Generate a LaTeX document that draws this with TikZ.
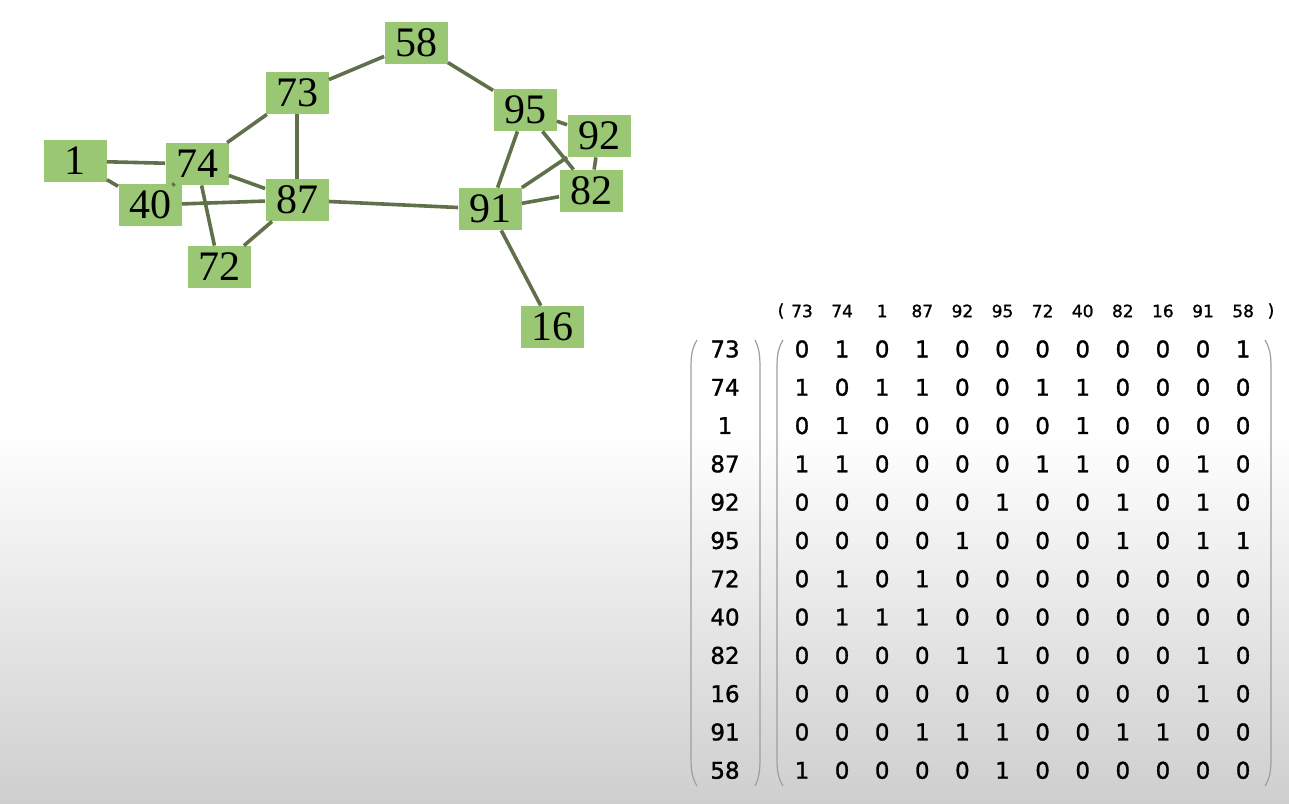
\documentclass[tikz,border=0pt]{standalone}
\usepackage{fontspec}
\setmainfont{Liberation Serif}
\newfontfamily\matfont[FakeBold=1.2]{DejaVu Sans}
\definecolor{vertexgreen}{RGB}{153,199,116}
\definecolor{edgegreen}{RGB}{96,112,74}

\begin{document}
\begin{tikzpicture}[x=0.5pt,y=-0.5pt,
  vertex/.style = {shape=rectangle, fill=vertexgreen, inner sep=0pt,
    minimum width=31.5pt, minimum height=21pt,
    font=\fontsize{21}{21}\selectfont},
  link/.style = {draw=edgegreen, line width=1.8pt},
  entry/.style = {inner sep=0pt, font=\matfont\fontsize{11.5}{11.5}\selectfont},
  head/.style = {inner sep=0pt, font=\matfont\fontsize{8.5}{8.5}\selectfont},
  paren/.style = {draw=gray!75, line width=0.6pt}]

  \useasboundingbox (0,0) rectangle (1289,803);
  \fill[white] (0,0) rectangle (1289,803);
  \shade[top color=white, bottom color=gray!38] (0,430) rectangle (1289,803);

  \node[vertex] (n58) at (416,43)  {58};
  \node[vertex] (n73) at (297,93)  {73};
  \node[vertex] (n1)  at (75,161)  {1};
  \node[vertex] (n74) at (197,164) {74};
  \node[vertex] (n40) at (150,205) {40};
  \node[vertex] (n87) at (297,200) {87};
  \node[vertex] (n72) at (219,267) {72};
  \node[vertex] (n95) at (525,110) {95};
  \node[vertex] (n92) at (599,136) {92};
  \node[vertex] (n82) at (591,191) {82};
  \node[vertex] (n91) at (490,209) {91};
  \node[vertex] (n16) at (552,327) {16};

  \draw[link] (n73) -- (n74);
  \draw[link] (n73) -- (n87);
  \draw[link] (n73) -- (n58);
  \draw[link] (n74) -- (n1);
  \draw[link] (n74) -- (n87);
  \draw[link] (n74) -- (n72);
  \draw[link] (n74) -- (n40);
  \draw[link] (n1) -- (n40);
  \draw[link] (n87) -- (n72);
  \draw[link] (n87) -- (n40);
  \draw[link] (n87) -- (n91);
  \draw[link] (n92) -- (n95);
  \draw[link] (n92) -- (n82);
  \draw[link] (n92) -- (n91);
  \draw[link] (n95) -- (n82);
  \draw[link] (n95) -- (n91);
  \draw[link] (n95) -- (n58);
  \draw[link] (n82) -- (n91);
  \draw[link] (n16) -- (n91);

  \node[head] (hl) at (781,311) {(};
  \node[head] (hr) at (1271,311) {)};
  \foreach \lab [count=\j] in {73,74,1,87,92,95,72,40,82,16,91,58} {
    \node[head] (h\j) at ({802+40.1*(\j-1)},311) {\lab};
    \node[entry] (r\j) at (725,{349+38.3*(\j-1)}) {\lab};
  }

  \foreach \rowvals [count=\i] in {
      {0,1,0,1,0,0,0,0,0,0,0,1},
      {1,0,1,1,0,0,1,1,0,0,0,0},
      {0,1,0,0,0,0,0,1,0,0,0,0},
      {1,1,0,0,0,0,1,1,0,0,1,0},
      {0,0,0,0,0,1,0,0,1,0,1,0},
      {0,0,0,0,1,0,0,0,1,0,1,1},
      {0,1,0,1,0,0,0,0,0,0,0,0},
      {0,1,1,1,0,0,0,0,0,0,0,0},
      {0,0,0,0,1,1,0,0,0,0,1,0},
      {0,0,0,0,0,0,0,0,0,0,1,0},
      {0,0,0,1,1,1,0,0,1,1,0,0},
      {1,0,0,0,0,1,0,0,0,0,0,0}} {
    \foreach \v [count=\j] in \rowvals
      \node[entry] (m\i-\j) at ({802+40.1*(\j-1)},{349+38.3*(\i-1)}) {\v};
  }

  \draw[paren] (697,340) .. controls (691,350) and (691,358) .. (691,372)
    -- (691,754) .. controls (691,768) and (691,776) .. (697,786);
  \draw[paren] (755,340) .. controls (760,350) and (760,358) .. (760,372)
    -- (760,754) .. controls (760,768) and (760,776) .. (755,786);
  \draw[paren] (783,340) .. controls (777,350) and (777,358) .. (777,372)
    -- (777,754) .. controls (777,768) and (777,776) .. (783,786);
  \draw[paren] (1265,340) .. controls (1271,350) and (1271,358) .. (1271,372)
    -- (1271,754) .. controls (1271,768) and (1271,776) .. (1265,786);
\end{tikzpicture}
\end{document}
